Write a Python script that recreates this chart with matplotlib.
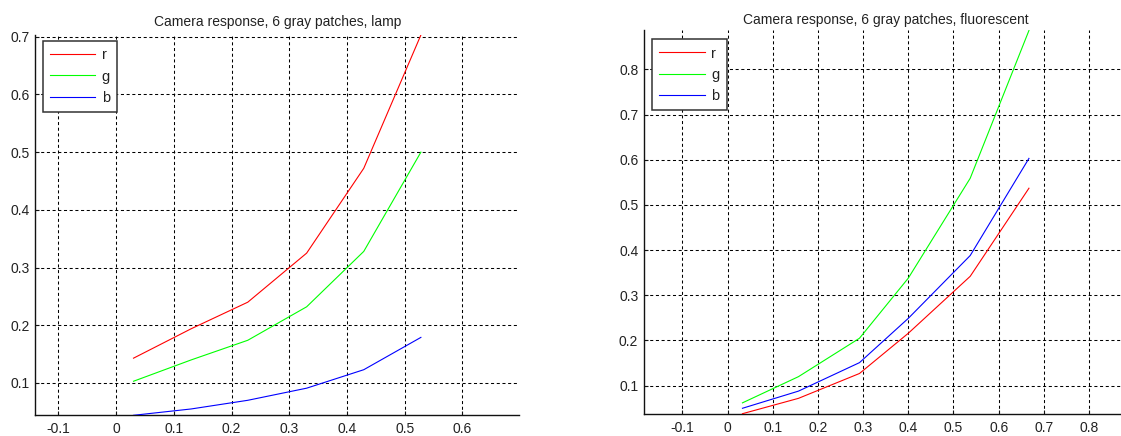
import numpy as np
import matplotlib
matplotlib.use('Agg')
import matplotlib.pyplot as plt
from matplotlib.ticker import MultipleLocator, FuncFormatter

plt.rcParams['font.family'] = ['Liberation Sans', 'DejaVu Sans']
plt.rcParams['axes.unicode_minus'] = False
plt.rcParams['lines.scale_dashes'] = False

# gray patch responses under the lamp
lamp_x = [0.030, 0.130, 0.228, 0.330, 0.429, 0.528]
lamp_r = [0.143, 0.194, 0.240, 0.325, 0.472, 0.703]
lamp_g = [0.103, 0.140, 0.174, 0.232, 0.328, 0.500]
lamp_b = [0.044, 0.055, 0.070, 0.091, 0.123, 0.179]

# gray patch responses under the fluorescent light
fluo_x = [0.033, 0.157, 0.292, 0.400, 0.537, 0.667]
fluo_r = [0.038, 0.072, 0.127, 0.216, 0.342, 0.537]
fluo_g = [0.062, 0.120, 0.205, 0.338, 0.559, 0.886]
fluo_b = [0.050, 0.088, 0.151, 0.249, 0.388, 0.603]

channels = ['r', 'g', 'b']
colors = ['#ff0000', '#00ff00', '#0000ff']

W, H = 1121, 436
fig = plt.figure(figsize=(W / 100, H / 100), dpi=100)
fig.patch.set_facecolor('white')

text_col = '#222222'


def fmt(v, pos):
    return '%g' % round(v, 6)


def panel(rect_px, x, series, title, title_pad, leg_px):
    left, top, w, h = rect_px
    ax = fig.add_axes([left / W, 1 - (top + h) / H, w / W, h / H])
    for vals, c, name in zip(series, colors, channels):
        ax.plot(x, vals, color=c, lw=0.8, label=name, zorder=3)

    # tight y range, x widened around the data so units are equal on both axes
    allv = np.concatenate([np.asarray(s) for s in series])
    ymin, ymax = allv.min(), allv.max()
    xspan = w * (ymax - ymin) / h
    xc = (min(x) + max(x)) / 2
    ax.set_ylim(ymin, ymax)
    ax.set_xlim(xc - xspan / 2, xc + xspan / 2)

    ax.xaxis.set_major_locator(MultipleLocator(0.1))
    ax.yaxis.set_major_locator(MultipleLocator(0.1))
    ax.xaxis.set_major_formatter(FuncFormatter(fmt))
    ax.yaxis.set_major_formatter(FuncFormatter(fmt))
    ax.grid(True, color='black', lw=0.75, linestyle=(0, (2.2, 1.9)), zorder=1)
    ax.set_axisbelow(True)

    for s in ['top', 'right']:
        ax.spines[s].set_visible(False)
    for s in ['left', 'bottom']:
        ax.spines[s].set_color('#111111')
        ax.spines[s].set_linewidth(1.0)
    ax.tick_params(direction='in', length=3, width=0.8, color='#111111',
                   labelsize=10, labelcolor=text_col)
    ax.tick_params(axis='x', pad=5)
    ax.tick_params(axis='y', pad=4)

    ax.set_title(title, fontsize=10, color=text_col, pad=title_pad)

    leg = ax.legend(loc='upper left', bbox_to_anchor=(leg_px[0] / W, 1 - leg_px[1] / H),
                    bbox_transform=fig.transFigure, borderaxespad=0,
                    fontsize=10.5, handlelength=3.1, handletextpad=0.45,
                    labelspacing=0.5, borderpad=0.5, fancybox=False,
                    framealpha=1, edgecolor='#333333')
    leg.get_frame().set_linewidth(1.1)
    for t in leg.get_texts():
        t.set_color(text_col)
    leg.set_zorder(5)
    return ax


panel((35.4, 35.0, 483.6, 380.3), lamp_x, [lamp_r, lamp_g, lamp_b],
      'Camera response, 6 gray patches, lamp', 6.5, (42.7, 41.0))
panel((643.9, 30.5, 483.6, 383.2), fluo_x, [fluo_r, fluo_g, fluo_b],
      'Camera response, 6 gray patches, fluorescent', 4.7, (652.0, 39.3))

fig.savefig('out.png', dpi=100, facecolor='white')
